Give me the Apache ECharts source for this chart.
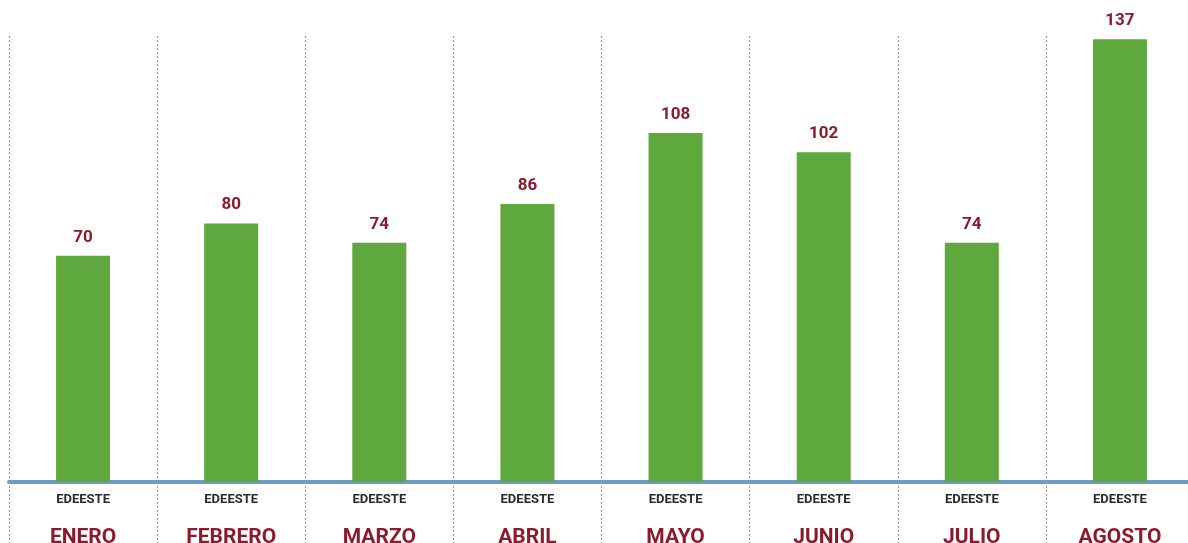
<!DOCTYPE html>
<html>
<head>
<meta charset="utf-8">
<script src="https://cdn.jsdelivr.net/npm/echarts@6/dist/echarts.min.js"></script>
<style>
  html, body { margin: 0; padding: 0; background: #fff; }
  #main { width: 1188px; height: 543px; }
</style>
</head>
<body>
<div id="main"></div>
<script>
var months = ['ENERO', 'FEBRERO', 'MARZO', 'ABRIL', 'MAYO', 'JUNIO', 'JULIO', 'AGOSTO'];
var company = 'EDEESTE';
var values = [70, 80, 74, 86, 108, 102, 74, 137];

var chart = echarts.init(document.getElementById('main'));

var dashStyle = { color: '#999', type: [2, 2], width: 1 };

var option = {
    animation: false,
    grid: { left: 9, right: -6, top: 36, bottom: 61, outerBoundsMode: 'none', containLabel: false },
    xAxis: [{
        type: 'category',
        data: months,
        axisLine: { lineStyle: { color: '#6b9cc5', width: 4 } },
        axisTick: { show: true, length: 62, lineStyle: dashStyle },
        splitLine: { show: true, lineStyle: dashStyle },
        axisLabel: {
            margin: 11,
            hideOverlap: false,
            formatter: function () { return company; },
            fontFamily: 'Roboto',
            fontWeight: 'bold',
            fontSize: 13,
            color: '#2b2b2b'
        }
    }, {
        // second axis only carries the month names
        type: 'category',
        data: months,
        position: 'bottom',
        axisLine: { show: false },
        axisTick: { show: false },
        splitLine: { show: false },
        axisLabel: {
            margin: 45,
            hideOverlap: false,
            fontFamily: 'Roboto',
            fontWeight: 'bold',
            fontSize: 21,
            lineHeight: 21,
            color: '#8b1a2c'
        }
    }],
    yAxis: {
        type: 'value',
        min: 0,
        max: 138,
        show: false
    },
    series: [{
        type: 'bar',
        data: values,
        barWidth: 54,
        itemStyle: { color: '#5ea83d' },
        label: {
            show: true,
            position: 'top',
            distance: 10,
            fontFamily: 'Roboto',
            fontWeight: 'bold',
            fontSize: 17,
            color: '#8b1a2c'
        }
    }]
};

chart.setOption(option);
</script>
</body>
</html>
